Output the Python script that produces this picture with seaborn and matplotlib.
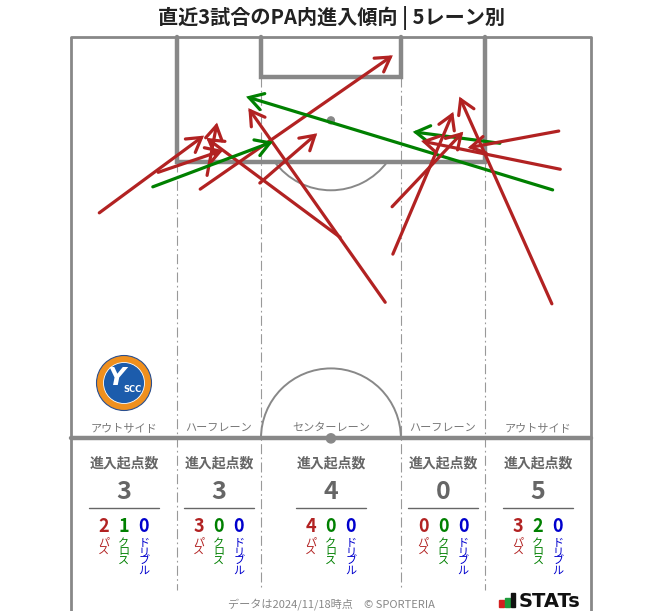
import numpy as np
import pandas as pd
import matplotlib
matplotlib.use("Agg")
import matplotlib.pyplot as plt
import seaborn as sns
from matplotlib.patches import FancyArrowPatch, Arc, Circle, Rectangle

sns.set_theme(style="white")
plt.rcParams["font.family"] = ["Noto Sans CJK JP", "DejaVu Sans"]

# ---------------- data ----------------
TITLE = "直近3試合のPA内進入傾向 | 5レーン別"
FOOTER = "データは2024/11/18時点　© SPORTERIA"
lanes = ["アウトサイド", "ハーフレーン", "センターレーン", "ハーフレーン", "アウトサイド"]
pass_counts = [2, 3, 4, 0, 3]
cross_counts = [1, 0, 0, 0, 2]
dribble_counts = [0, 0, 0, 0, 0]
kind_labels = ["パス", "クロス", "ドリブル"]

# entries (pitch metres: x across 0..68, y from goal line toward halfway line)
arrow_kind = ["pass", "pass", "pass", "pass", "pass", "pass", "pass",
              "cross", "cross", "cross",
              "pass", "pass", "pass", "pass", "pass"]
x_start = [3.7, 11.4, 17.8, 35.2, 41.1, 24.7, 16.9, 10.7, 63.0, 56.1, 42.0, 42.1, 62.9, 63.8, 64.0]
y_start = [23.0, 17.7, 18.1, 26.2, 34.7, 19.1, 19.9, 19.6, 20.0, 13.9, 22.2, 28.4, 34.9, 12.3, 17.3]
x_end = [17.4, 19.9, 19.1, 17.7, 23.2, 32.2, 42.1, 26.4, 22.9, 44.7, 51.3, 50.0, 50.8, 51.9, 45.8]
y_end = [12.9, 14.8, 11.2, 13.2, 9.3, 12.6, 2.4, 13.7, 7.8, 12.4, 12.4, 9.8, 7.8, 14.5, 13.6]

arrows = pd.DataFrame({"kind": arrow_kind, "x0": x_start, "y0": y_start,
                       "x1": x_end, "y1": y_end})

# ---------------- geometry / style ----------------
W, L = 68.0, 52.5
PA_W, PA_D = 40.32, 16.3
GA_W, GA_D = 18.32, 5.2
SPOT, R = 10.9, 9.15
S = 7.645  # px per metre
X0, Y0 = 71, 37

RED, GREEN, BLUE = "#b22222", "#008000", "#0000cd"
LINE = "#888888"
kind_color = {"pass": RED, "cross": GREEN, "dribble": BLUE}


def P(px, py):
    return ((px - X0) / S, (py - Y0) / S)


fig = plt.figure(figsize=(6.63, 6.11), dpi=100)
ax = fig.add_axes([0, 0, 1, 1])
ax.set_xlim(-X0 / S, (663 - X0) / S)
ax.set_ylim((611 - Y0) / S, -Y0 / S)
ax.axis("off")

pa_l, pa_r = (W - PA_W) / 2, (W + PA_W) / 2
ga_l, ga_r = (W - GA_W) / 2, (W + GA_W) / 2
bottom = (611 - Y0) / S + 1

# outer lines
ax.plot([0, 0], [0, bottom], color=LINE, lw=2.0, solid_capstyle="butt", zorder=2)
ax.plot([W, W], [0, bottom], color=LINE, lw=2.0, solid_capstyle="butt", zorder=2)
ax.plot([0, W], [0, 0], color=LINE, lw=2.0, zorder=2)
# penalty area & goal area
ax.plot([pa_l, pa_l, pa_r, pa_r], [0, PA_D, PA_D, 0], color=LINE, lw=3.2,
        solid_joinstyle="miter", zorder=2)
ax.plot([ga_l, ga_l, ga_r, ga_r], [0, GA_D, GA_D, 0], color=LINE, lw=3.2,
        solid_joinstyle="miter", zorder=2)
# halfway line
ax.plot([0, W], [L, L], color=LINE, lw=3.2, zorder=2)
# spots and arcs
ax.add_patch(Circle((W / 2, SPOT), 0.45, color=LINE, zorder=2))
ax.add_patch(Circle((W / 2, L), 0.6, color=LINE, zorder=3))
ang = np.degrees(np.arcsin((PA_D - SPOT) / R))
ax.add_patch(Arc((W / 2, SPOT), 2 * R, 2 * R, theta1=ang, theta2=180 - ang,
                 color=LINE, lw=1.4, zorder=2))
ax.add_patch(Arc((W / 2, L), 2 * R, 2 * R, theta1=180, theta2=360,
                 color=LINE, lw=1.4, zorder=2))

# lane lines (dash-dot)
lane_end = (590 - Y0) / S
dash = (0, (9, 3, 1.5, 3))
for xl, ys in [(pa_l, PA_D), (ga_l, GA_D), (ga_r, GA_D), (pa_r, PA_D)]:
    ax.plot([xl, xl], [ys, lane_end], color="#999999", lw=0.8, ls=dash, zorder=1)

# arrows
for r in arrows.itertuples():
    ax.add_patch(FancyArrowPatch((r.x0, r.y0), (r.x1, r.y1),
                                 arrowstyle="->,head_length=0.5,head_width=0.3",
                                 mutation_scale=20, lw=2.3,
                                 color=kind_color[r.kind],
                                 shrinkA=0, shrinkB=0, zorder=5,
                                 capstyle="round", joinstyle="miter"))

# lane labels and stats
bounds = [0, pa_l, ga_l, ga_r, pa_r, W]
centers = [(bounds[i] + bounds[i + 1]) / 2 for i in range(5)]
y_label = (428 - Y0) / S
y_head = (463 - Y0) / S
y_total = (492 - Y0) / S
y_rule = (508.5 - Y0) / S
y_sub = (526.5 - Y0) / S
y_vert = (538 - Y0) / S
off = 20 / S
half_rule = 35 / S

for i, cx in enumerate(centers):
    ax.text(cx, y_label, lanes[i], ha="center", va="center", fontsize=8,
            color="#777777", zorder=6)
    ax.text(cx, y_head, "進入起点数", ha="center", va="center", fontsize=10,
            fontweight="bold", color="#666666")
    total = pass_counts[i] + cross_counts[i] + dribble_counts[i]
    ax.text(cx, y_total, str(total), ha="center", va="center", fontsize=18,
            fontweight="bold", color="#666666")
    ax.plot([cx - half_rule, cx + half_rule], [y_rule, y_rule], color="#666666", lw=1.0)
    vals = [pass_counts[i], cross_counts[i], dribble_counts[i]]
    cols = [RED, GREEN, BLUE]
    for k in range(3):
        xx = cx + (k - 1) * off
        ax.text(xx, y_sub, str(vals[k]), ha="center", va="center", fontsize=13,
                fontweight="bold", color=cols[k])
        ax.text(xx, y_vert, "\n".join(kind_labels[k]), ha="center", va="top",
                fontsize=8, color=cols[k], linespacing=0.9)

# title & footer
tx, ty = P(331, 18)
ax.text(tx, ty, TITLE, ha="center", va="center", fontsize=14.5,
        fontweight="bold", color="#222222")
fx, fy = P(331, 604)
ax.text(fx, fy, FOOTER, ha="center", va="center", fontsize=8, color="#888888")

# STATs logo
for (bx, bh, bc) in [(499, 7, "#d42020"), (505, 9, "#1e9b3c"), (510.5, 14, "#111111")]:
    x_, y_ = P(bx, 607 - bh)
    ax.add_patch(Rectangle((x_, y_), 4.5 / S, bh / S, color=bc, zorder=6))
sx, sy = P(519, 607)
ax.text(sx, sy, "STATs", ha="left", va="baseline", fontsize=14,
        fontweight="bold", color="#111111", family="DejaVu Sans")

# club badge
bx, by = P(124, 383)
ax.add_patch(Circle((bx, by), 27.5 / S, facecolor="#f0901e", edgecolor="#2a4f8f",
                    lw=0.8, zorder=6))
ax.add_patch(Circle((bx, by), 20.5 / S, facecolor="#1c5cac", edgecolor="white",
                    lw=0.6, zorder=7))
yx, yy = P(116, 378)
ax.text(yx, yy, "Y", ha="center", va="center", fontsize=18, fontweight="bold",
        fontstyle="italic", color="white", zorder=8, family="DejaVu Sans")
cx_, cy_ = P(132, 390)
ax.text(cx_, cy_, "SCC", ha="center", va="center", fontsize=6, fontweight="bold",
        color="white", zorder=9, family="DejaVu Sans")

fig.savefig("out.png", dpi=100)
